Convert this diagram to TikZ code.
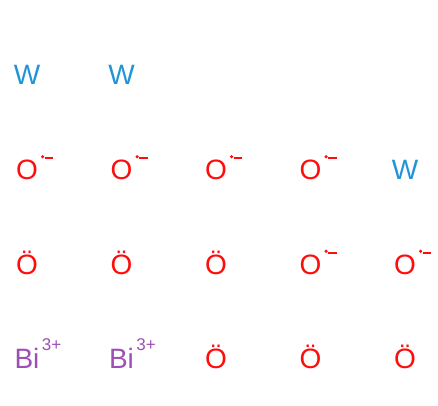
\documentclass[tikz,border=0pt]{standalone}
\usepackage{fontspec}
\setmainfont{Liberation Sans}
\usetikzlibrary{calc}
\definecolor{wblue}{HTML}{2194D6}
\definecolor{ored}{HTML}{FF0D0D}
\definecolor{bipurple}{HTML}{9E4FB5}
\tikzset{atom/.style={inner sep=0pt, anchor=base, font=\fontsize{28}{28}\selectfont}}
\newcommand{\bicharge}{\rlap{\raisebox{18.5pt}{\kern2.5pt\fontsize{17}{17}\selectfont 3+}}}

\begin{document}
\begin{tikzpicture}[x=1pt,y=1pt]
                \useasboundingbox (0,0) rectangle (438,405);
                % row 1
                \node[atom, wblue] (w1) at (27,320){W};
                \node[atom, wblue] (w2) at (121.5,320){W};
                % row 2
                \node[atom, ored] (om1) at (27,225.5){O};
                \node[atom, ored] (om2) at (121.5,225.5){O};
                \node[atom, ored] (om3) at (216,225.5){O};
                \node[atom, ored] (om4) at (310.5,225.5){O};
                \node[atom, wblue] (w3) at (405,225.5){W};
                % row 3
                \node[atom, ored] (ol1) at (27,131){Ö};
                \node[atom, ored] (ol2) at (121.5,131){Ö};
                \node[atom, ored] (ol3) at (216,131){Ö};
                \node[atom, ored] (om5) at (310.5,131){O};
                \node[atom, ored] (om6) at (405,131){O};
                % row 4
                \node[atom, bipurple] (bi1) at (27,36.5){Bi\bicharge};
                \node[atom, bipurple] (bi2) at (121.5,36.5){Bi\bicharge};
                \node[atom, ored] (ol4) at (216,36.5){Ö};
                \node[atom, ored] (ol5) at (310.5,36.5){Ö};
                \node[atom, ored] (ol6) at (405,36.5){Ö};
                % radical dot and minus
                \foreach \n in {om1,om2,om3,om4,om5,om6}{
                    \fill[ored] ($(\n.north east)+(4.5,3)$) circle (1.8);
                    \draw[ored, line width=2] ($(\n.north east)+(6.5,1.3)$) -- ++(8.5,0);
                }
            \end{tikzpicture}
\end{document}
